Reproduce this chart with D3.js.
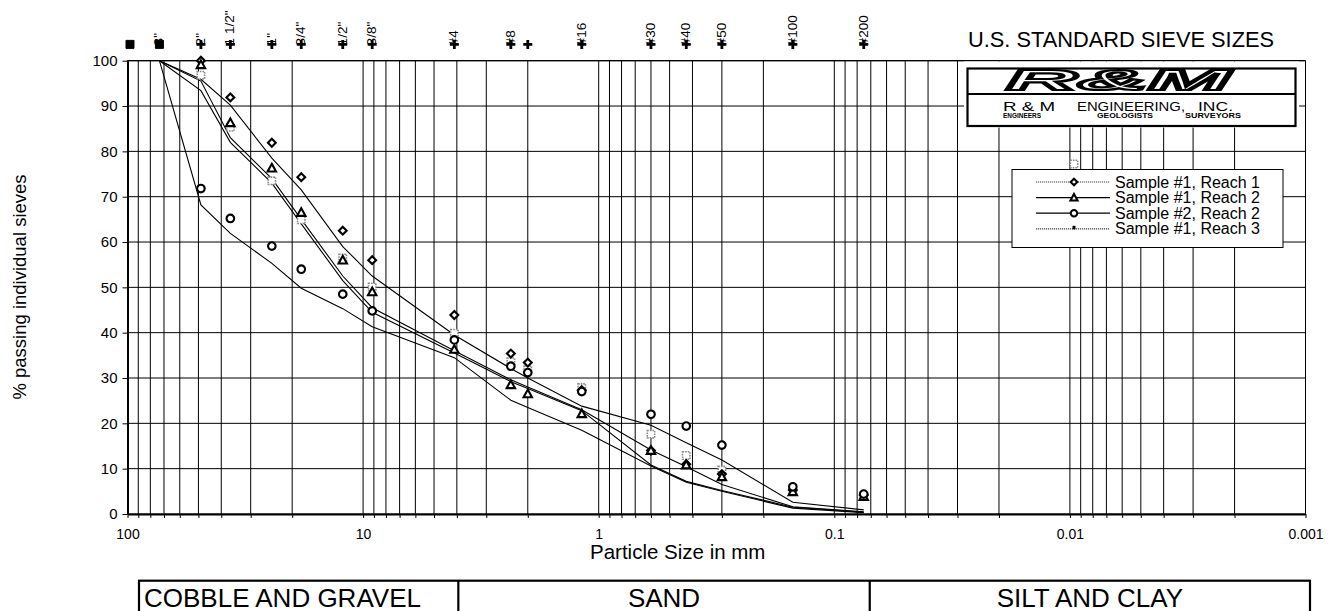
<!DOCTYPE html>
<html>
<head>
<meta charset="utf-8">
<script src="https://cdn.jsdelivr.net/npm/d3@7"></script>
<style>
  html, body { margin: 0; padding: 0; background: #fff; }
  svg text { font-family: "Liberation Sans", Arial, Helvetica, sans-serif; fill: #000; }
</style>
</head>
<body>
<svg id="chart" width="1340" height="611"></svg>
<script>
// ---- sieve openings (mm) and labels along the top ----
const sieveLabels = ['', '3"', '2"', '1 1/2"', '1"', '3/4"', '1/2"', '3/8"', '#4', '#8', '', '#16', '#30', '#40', '#50', '#100', '#200'];
const sieveSizes  = [97.6, 73.2, 48.8, 36.6, 24.4, 18.3, 12.2, 9.15, 4.1, 2.36, 2.0, 1.18, 0.6, 0.425, 0.3, 0.15, 0.075];
const sieveShapes = ['square', 'square', 'plus', 'plus', 'plus', 'plus', 'plus', 'plus', 'plus', 'plus', 'plus', 'plus', 'plus', 'plus', 'plus', 'plus', 'plus'];

// ---- measured gradation, % passing (2" down to #200) ----
const testSizes = [48.8, 36.6, 24.4, 18.3, 12.2, 9.15, 4.1, 2.36, 2.0, 1.18, 0.6, 0.425, 0.3, 0.15, 0.075];
const sample1Reach1 = [100, 91.9, 81.9, 74.3, 62.5, 56.0, 43.9, 35.4, 33.4, 27.3, 14.0, 11.0, 8.8, 5.3, 4.2];
const sample1Reach2 = [99.1, 86.3, 76.3, 66.5, 56.0, 49.0, 36.3, 28.5, 26.5, 22.1, 14.0, 10.8, 8.2, 4.9, 3.8];
const sample2Reach2 = [71.8, 65.2, 59.1, 54.0, 48.5, 44.8, 38.4, 32.6, 31.2, 27.0, 22.0, 19.4, 15.2, 6.0, 4.4];
const sample1Reach3 = [96.8, 85.3, 73.5, 64.9, 56.5, 50.1, 39.9, 33.6, 31.8, 27.9, 17.6, 12.9, 9.7, 5.0, 4.0];

// ---- grading curves (3" down to #200) ----
const curveSizes = [73.2, 48.8, 36.6, 24.4, 18.3, 12.2, 9.15, 4.1, 2.36, 2.0, 1.18, 0.6, 0.425, 0.3, 0.15, 0.075];
const curveA = [100, 95.9, 90.2, 78.5, 71.5, 59.0, 52.5, 39.5, 32.1, 30.0, 23.8, 19.6, 15.7, 11.9, 2.6, 0.9];
const curveB = [100, 95.5, 83.0, 74.0, 65.0, 52.5, 45.5, 36.0, 29.6, 28.0, 23.0, 14.1, 10.4, 6.5, 1.6, 0.5];
const curveC = [100, 93.4, 82.0, 73.0, 64.0, 51.5, 44.5, 35.5, 29.2, 27.7, 22.8, 10.8, 7.2, 5.2, 1.5, 0.4];
const curveD = [100, 68.2, 61.9, 55.3, 49.8, 45.3, 41.3, 34.5, 25.1, 23.5, 18.5, 10.6, 7.0, 5.0, 1.3, 0.3];

// ---- axes ----
const xTickValues = [100, 10, 1, 0.1, 0.01, 0.001];
const xTickLabels = ['100', '10', '1', '0.1', '0.01', '0.001'];
const yTickValues = [0, 10, 20, 30, 40, 50, 60, 70, 80, 90, 100];

const seriesNames = ['Sample #1, Reach 1', 'Sample #1, Reach 2', 'Sample #2, Reach 2', 'Sample #1, Reach 3'];
const zoneNames = ['COBBLE AND GRAVEL', 'SAND', 'SILT AND CLAY'];
const zoneLimits = [4.1, 0.075];   // gravel/sand and sand/fines boundaries (mm)

const svg = d3.select('#chart');
const P = { left: 127.5, right: 1305.5, top: 60.7, bottom: 514 };

const x = d3.scaleLog().domain([100, 0.001]).range([P.left, P.right]);
const y = d3.scaleLinear().domain([0, 100]).range([P.bottom, P.top]);

// 1-9 subdivisions in every decade
const gridX = [];
for (let e = -3; e <= 1; e++) for (let k = 1; k <= 9; k++) gridX.push(+(k * Math.pow(10, e)).toPrecision(3));
gridX.push(100);

// ---- grid ----
const grid = svg.append('g').attr('stroke', '#000').attr('stroke-width', 1);
grid.selectAll('line.v').data(gridX).join('line')
  .attr('x1', d => x(d)).attr('x2', d => x(d))
  .attr('y1', y(0)).attr('y2', y(100));
grid.selectAll('line.h').data(yTickValues).join('line')
  .attr('x1', P.left).attr('x2', P.right)
  .attr('y1', d => y(d)).attr('y2', d => y(d));

// ---- x axis ----
const fmtX = d => {
  const i = xTickValues.findIndex(v => Math.abs(v - d) / v < 1e-6);
  return i >= 0 ? xTickLabels[i] : '';
};
const gx = svg.append('g').attr('transform', `translate(0,${P.bottom})`)
  .call(d3.axisBottom(x).tickValues(gridX).tickFormat(fmtX).tickSize(4).tickSizeOuter(0).tickPadding(11));
gx.select('.domain').attr('stroke', '#000').attr('stroke-width', 2);
gx.selectAll('.tick line').attr('stroke', '#000');
gx.selectAll('.tick text').attr('font-size', 14).attr('font-family', null);

// ---- y axis ----
const gy = svg.append('g').attr('transform', `translate(${P.left},0)`)
  .call(d3.axisLeft(y).tickValues(yTickValues).tickSize(5).tickSizeOuter(0).tickPadding(5));
gy.select('.domain').attr('stroke', '#000').attr('stroke-width', 2);
gy.selectAll('.tick line').attr('stroke', '#000');
gy.selectAll('.tick text').attr('font-size', 15).attr('font-family', null);

// top frame
svg.append('line').attr('x1', P.left).attr('x2', P.right).attr('y1', y(100)).attr('y2', y(100))
  .attr('stroke', '#000').attr('stroke-width', 1.2);

// ---- titles ----
svg.append('text').attr('x', 590).attr('y', 559).attr('font-size', 20.5).text('Particle Size in mm');
svg.append('text').attr('transform', 'translate(26,287) rotate(-90)')
  .attr('text-anchor', 'middle').attr('font-size', 18.5).text('% passing individual sieves');
svg.append('text').attr('x', 968).attr('y', 46.5).attr('font-size', 21.8).text('U.S. STANDARD SIEVE SIZES');

// ---- sieve markers and labels along the top ----
const sieveLevel = 103.6;
const sieves = sieveSizes.map((s, i) => ({ s, label: sieveLabels[i], shape: sieveShapes[i] }));
const sg = svg.append('g');
sg.selectAll('path.sv').data(sieves).join('path')
  .attr('transform', d => `translate(${x(d.s)},${y(sieveLevel)})`)
  .attr('d', d => d.shape === 'plus' ? 'M-4.5,0H4.5M0,-4.5V4.5' : 'M-4,-4H4V4H-4Z')
  .attr('fill', d => d.shape === 'plus' ? 'none' : '#000')
  .attr('stroke', '#000').attr('stroke-width', d => d.shape === 'plus' ? 2.8 : 1);
sg.selectAll('text').data(sieves.filter(d => d.label)).join('text')
  .attr('transform', d => `translate(${x(d.s)},${y(sieveLevel) + 1}) rotate(-90)`)
  .attr('dy', '0.3em').attr('font-size', 13.5).text(d => d.label);

// ---- grading curves ----
const line = d3.line().x(d => x(d[0])).y(d => y(d[1]));
const curves = [curveA, curveB, curveC, curveD].map(c => curveSizes.map((s, i) => [s, c[i]]));
svg.append('g').selectAll('path').data(curves).join('path')
  .attr('d', line).attr('fill', 'none').attr('stroke', '#000').attr('stroke-width', 1.1);

// ---- test points ----
const shapes = {
  diamond: 'M0,-3.9L3.9,0L0,3.9L-3.9,0Z',
  triangle: 'M0,-4.3L4.2,3.3L-4.2,3.3Z',
  circle: 'M3.8,0A3.8,3.8 0 1,1 -3.8,0A3.8,3.8 0 1,1 3.8,0Z',
  square: 'M-3.7,-3.7H3.7V3.7H-3.7Z'
};
const pointSets = [
  { vals: sample1Reach3, shape: 'square', stroke: '#8a8a8a', width: 1.6, dash: '1.6,1' },
  { vals: sample1Reach1, shape: 'diamond', stroke: '#000', width: 2.1 },
  { vals: sample1Reach2, shape: 'triangle', stroke: '#000', width: 2.1 },
  { vals: sample2Reach2, shape: 'circle', stroke: '#000', width: 2.1 }
];
pointSets.forEach(ps => {
  svg.append('g').selectAll('path').data(testSizes.map((s, i) => [s, ps.vals[i]])).join('path')
    .attr('transform', d => `translate(${x(d[0])},${y(d[1])})`)
    .attr('d', shapes[ps.shape])
    .attr('fill', '#fff').attr('stroke', ps.stroke).attr('stroke-width', ps.width)
    .attr('stroke-dasharray', ps.dash || null);
});

// ---- legend ----
const lg = svg.append('g').attr('transform', 'translate(1012,169.5)');
lg.append('path').attr('transform', 'translate(62,-5.5)').attr('d', shapes.square)
  .attr('fill', '#fff').attr('stroke', '#8a8a8a').attr('stroke-width', 1.6).attr('stroke-dasharray', '1.6,1');
lg.append('rect').attr('width', 271).attr('height', 78).attr('fill', '#fff').attr('stroke', '#000').attr('stroke-width', 1);
const legendKeys = [
  { shape: 'diamond', dash: '1.2,0.8', color: '#444' },
  { shape: 'triangle', dash: null, color: '#000' },
  { shape: 'circle', dash: null, color: '#000' },
  { shape: 'bar', dash: '1.2,0.8', color: '#444' }
];
seriesNames.forEach((name, i) => {
  const row = lg.append('g').attr('transform', `translate(0,${12.5 + i * 15.6})`);
  row.append('line').attr('x1', 24).attr('x2', 98).attr('stroke', legendKeys[i].color)
    .attr('stroke-width', 1.2).attr('stroke-dasharray', legendKeys[i].dash);
  if (legendKeys[i].shape === 'bar') {
    row.append('rect').attr('x', 60.5).attr('y', -3).attr('width', 3).attr('height', 3.5).attr('fill', '#000');
  } else {
    row.append('path').attr('transform', 'translate(62,0) scale(0.85)').attr('d', shapes[legendKeys[i].shape])
      .attr('fill', '#fff').attr('stroke', '#000').attr('stroke-width', 2.4);
  }
  row.append('text').attr('x', 103).attr('y', 5.6).attr('font-size', 16).text(name);
});

// ---- company logo block ----
const logo = svg.append('g');
logo.append('rect').attr('x', 964).attr('y', 61.5).attr('width', 335).attr('height', 66).attr('fill', '#fff');
logo.append('rect').attr('x', 967.5).attr('y', 68.5).attr('width', 328).attr('height', 57.5)
  .attr('fill', '#fff').attr('stroke', '#000').attr('stroke-width', 2.2);
logo.append('line').attr('x1', 967.5).attr('x2', 1295.5).attr('y1', 94).attr('y2', 94)
  .attr('stroke', '#000').attr('stroke-width', 2.2);
logo.append('text').attr('x', 1006).attr('y', 90).attr('font-size', 30).attr('font-weight', 'bold')
  .attr('font-style', 'italic').attr('textLength', 224).attr('lengthAdjust', 'spacingAndGlyphs')
  .attr('stroke', '#000').attr('stroke-width', 2.2).style('fill', '#fff')
  .text('R&M');
[['R & M', 1003, 52], ['ENGINEERING,', 1077, 108], ['INC.', 1198, 35]].forEach(t => {
  logo.append('text').attr('x', t[1]).attr('y', 110.8).attr('font-size', 13)
    .attr('textLength', t[2]).attr('lengthAdjust', 'spacingAndGlyphs').attr('xml:space', 'preserve')
    .text(t[0]);
});
[['ENGINEERS', 1003, 38], ['GEOLOGISTS', 1097, 56], ['SURVEYORS', 1185, 56]].forEach(t => {
  logo.append('text').attr('x', t[1]).attr('y', 118).attr('font-size', 6.5).attr('font-weight', 'bold')
    .attr('textLength', t[2]).attr('lengthAdjust', 'spacingAndGlyphs').text(t[0]);
});

// ---- soil classification band ----
const band = svg.append('g');
const bandTop = 580.7, bandLeft = 139, bandRight = 1310;
const bandEdges = [bandLeft, x(zoneLimits[0]) + 4, x(zoneLimits[1]) + 6, bandRight];
band.append('rect').attr('x', bandLeft).attr('y', bandTop).attr('width', bandRight - bandLeft).attr('height', 60)
  .attr('fill', 'none').attr('stroke', '#000').attr('stroke-width', 2.2);
band.selectAll('line').data(bandEdges.slice(1, 3)).join('line')
  .attr('x1', d => d).attr('x2', d => d).attr('y1', bandTop).attr('y2', 640)
  .attr('stroke', '#000').attr('stroke-width', 2.2);
band.selectAll('text').data(zoneNames).join('text')
  .attr('x', (d, i) => i === 0 ? bandLeft + 5 : (bandEdges[i] + bandEdges[i + 1]) / 2)
  .attr('text-anchor', (d, i) => i === 0 ? 'start' : 'middle')
  .attr('y', 606.5).attr('font-size', 26).text(d => d);
</script>
</body>
</html>
